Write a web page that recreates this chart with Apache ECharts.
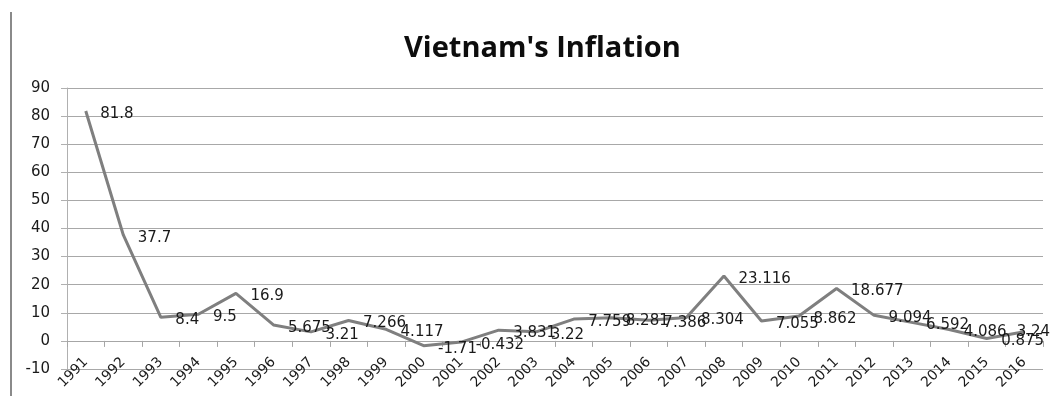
<!DOCTYPE html>
<html>
<head>
<meta charset="utf-8">
<script src="https://cdn.jsdelivr.net/npm/echarts@6/dist/echarts.min.js"></script>
<style>html,body{margin:0;padding:0;background:#fff;}#c{width:1052px;height:402px;}</style>
</head>
<body>
<div id="c"></div>
<script>
const years = ['1991','1992','1993','1994','1995','1996','1997','1998','1999','2000','2001','2002','2003','2004','2005','2006','2007','2008','2009','2010','2011','2012','2013','2014','2015','2016'];
const inflation = [81.8, 37.7, 8.4, 9.5, 16.9, 5.675, 3.21, 7.266, 4.117, -1.71, -0.432, 3.831, 3.22, 7.759, 8.281, 7.386, 8.304, 23.116, 7.055, 8.862, 18.677, 9.094, 6.592, 4.086, 0.875, 3.24];
const yTicks = { min: -10, max: 90, interval: 10 };
const titleText = "Vietnam's Inflation";

const chart = echarts.init(document.getElementById('c'), null, { renderer: 'canvas' });
const seriesData = inflation.map((v, i) => {
  if (i === inflation.length - 1) {
    return { value: v, label: { offset: [-22, 0] } };
  }
  return v;
});
chart.setOption({
  animation: false,
  backgroundColor: '#ffffff',
  title: {
    text: titleText,
    left: 399,
    top: 29,
    textStyle: { fontFamily: 'Open Sans', fontWeight: 'bold', fontSize: 29, color: '#0d0d0d' }
  },
  graphic: [{
    type: 'line',
    shape: { x1: 11, y1: 12, x2: 11, y2: 396 },
    style: { stroke: '#8a8a8a', lineWidth: 2 }
  }],
  grid: { left: 67, right: 9, top: 88, bottom: 33 },
  xAxis: [{
    type: 'category',
    data: years,
    position: 'bottom',
    boundaryGap: true,
    axisLine: { onZero: true, lineStyle: { color: '#a6a6a6', width: 1 } },
    axisTick: { show: true, length: 6, lineStyle: { color: '#a6a6a6' } },
    axisLabel: { show: false }
  }, {
    type: 'category',
    data: years,
    position: 'bottom',
    boundaryGap: true,
    axisLine: { onZero: false, show: false },
    axisTick: { show: false },
    axisLabel: { show: true, rotate: 45, margin: -9, fontFamily: 'DejaVu Sans', fontSize: 14, color: '#1a1a1a', interval: 0 }
  }],
  yAxis: {
    type: 'value',
    min: yTicks.min, max: yTicks.max, interval: yTicks.interval,
    axisLine: { show: true, lineStyle: { color: '#b0b0b0' } },
    axisTick: { show: true, length: 6, lineStyle: { color: '#b0b0b0' } },
    axisLabel: { margin: 17, fontFamily: 'DejaVu Sans', fontSize: 15, color: '#1a1a1a' },
    splitLine: { show: true, lineStyle: { color: '#a8a8a8', width: 1 } }
  },
  series: [{
    type: 'line',
    xAxisIndex: 0,
    data: seriesData,
    symbol: 'circle',
    symbolSize: 1,
    showSymbol: true,
    itemStyle: { color: 'rgba(128,128,128,0)' },
    lineStyle: { color: '#7f7f7f', width: 3 },
    label: {
      show: true,
      position: 'right',
      distance: 14,
      offset: [0, 3],
      fontFamily: 'DejaVu Sans',
      fontSize: 15,
      color: '#1a1a1a'
    },
    emphasis: { disabled: true }
  }]
});
</script>
</body>
</html>
